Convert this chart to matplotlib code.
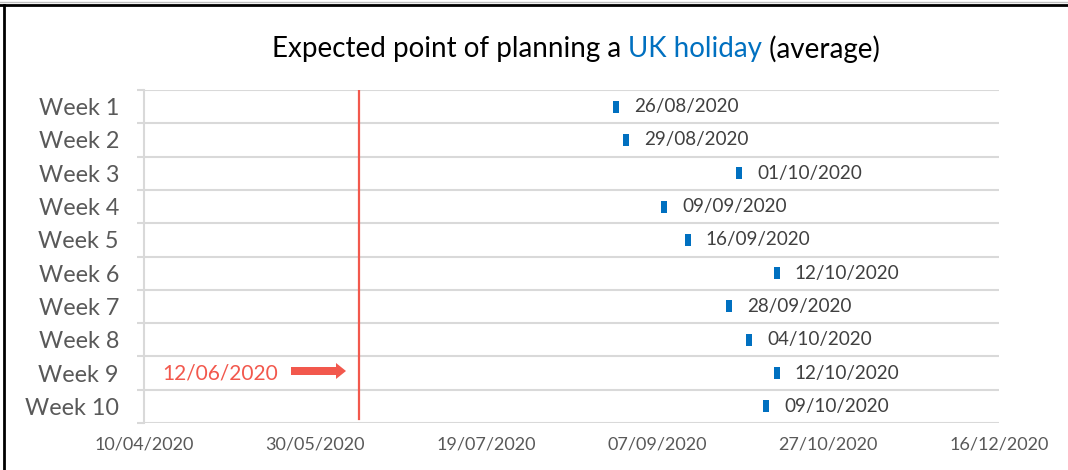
import matplotlib
matplotlib.use("Agg")
import matplotlib.pyplot as plt
from matplotlib.lines import Line2D
from matplotlib.patches import FancyArrow
from datetime import datetime, timedelta

weeks = ["Week 1", "Week 2", "Week 3", "Week 4", "Week 5",
         "Week 6", "Week 7", "Week 8", "Week 9", "Week 10"]
dates = ["26/08/2020", "29/08/2020", "01/10/2020", "09/09/2020", "16/09/2020",
         "12/10/2020", "28/09/2020", "04/10/2020", "12/10/2020", "09/10/2020"]
ref_date = "12/06/2020"
x_start = "10/04/2020"
x_end = "16/12/2020"
tick_step_days = 50

BLUE = "#0070C0"
RED = "#F2584D"
GRID = "#D9D9D9"
LABEL = "#595959"
DLABEL = "#404040"

def pd_(s):
    return datetime.strptime(s, "%d/%m/%Y")

xd = [pd_(d) for d in dates]
ypos = list(range(len(weeks)))

fig = plt.figure(figsize=(10.68, 4.70), dpi=100)
ax = fig.add_axes([144/1068, 1-423/470, (999-144)/1068, (423-90)/470])

# marker: vertical rectangle
rect = [(-0.27, -0.5), (0.27, -0.5), (0.27, 0.5), (-0.27, 0.5), (-0.27, -0.5)]
ax.plot(xd, ypos, linestyle="none", marker=rect, markersize=8.2,
        color=BLUE, markeredgewidth=0, zorder=4)
for x, y, s in zip(xd, ypos, dates):
    ax.annotate(s, (x, y), xytext=(13, 0), textcoords="offset points",
                va="center", ha="left", fontsize=13.6, color=DLABEL,
                family="Lato")

# reference line
ax.axvline(pd_(ref_date), ymin=0.012, ymax=1, color=RED, lw=1.6, zorder=3)

x0, x1 = pd_(x_start), pd_(x_end)
ax.set_xlim(x0, x1)
ticks = []
t = x0
while t <= x1:
    ticks.append(t)
    t += timedelta(days=tick_step_days)
ax.set_xticks(ticks)
ax.set_xticklabels([t.strftime("%d/%m/%Y") for t in ticks])
ax.tick_params(axis="x", length=0, pad=10, labelsize=13, labelcolor=LABEL)
for lab in ax.get_xticklabels():
    lab.set_family("Lato")

ax.set_ylim(len(weeks) - 0.5, -0.5)
ax.set_yticks(ypos)
ax.set_yticklabels(weeks)
ax.tick_params(axis="y", which="major", length=0, pad=18, labelsize=16.8,
               labelcolor=LABEL)
for lab in ax.get_yticklabels():
    lab.set_family("Lato")
ax.set_yticks([i - 0.5 for i in range(len(weeks) + 1)], minor=True)
ax.tick_params(axis="y", which="minor", length=5, color=GRID, width=1.5)
ax.grid(axis="y", which="minor", color=GRID, lw=1.5)
ax.grid(axis="x", visible=False)

for sp in ["top", "right", "bottom"]:
    ax.spines[sp].set_visible(False)
ax.spines["left"].set_color(GRID)
ax.spines["left"].set_linewidth(1.5)

# annotation text and arrow
ax.text((162-144)/855, 8, ref_date, transform=ax.get_yaxis_transform(),
        va="center", ha="left", fontsize=15, color=RED, family="Lato")
arr = FancyArrow((291-144)/855, 1-(371-90)/333, (346-291)/855, 0,
                 width=8/333, head_width=16/333, head_length=10/855,
                 length_includes_head=True, transform=ax.transAxes,
                 color=RED, lw=0, zorder=5)
ax.add_patch(arr)

# two-colour title
parts = [("Expected point of planning a ", "black"), ("UK holiday", BLUE),
         (" (average)", "black")]
r = fig.canvas.get_renderer()
texts = []
for s, c in parts:
    tt = fig.text(0, 1-49/470, s, color=c, fontsize=20, family="Lato",
                  va="center", ha="left")
    texts.append(tt)
widths = [tt.get_window_extent(r).width for tt in texts]
total = sum(widths)
xs = 576 - total/2
for tt, w in zip(texts, widths):
    tt.set_x(xs/1068)
    xs += w

# border lines
fig.add_artist(Line2D([0, 1], [1-2/470, 1-2/470], color="#BFBFBF", lw=1,
                      transform=fig.transFigure))
fig.add_artist(Line2D([0, 1], [1-5/470, 1-5/470], color="black", lw=2,
                      transform=fig.transFigure))
fig.add_artist(Line2D([4/1068, 4/1068], [0, 1-5/470], color="black", lw=2,
                      transform=fig.transFigure))

fig.savefig("out.png", dpi=100, facecolor="white")
